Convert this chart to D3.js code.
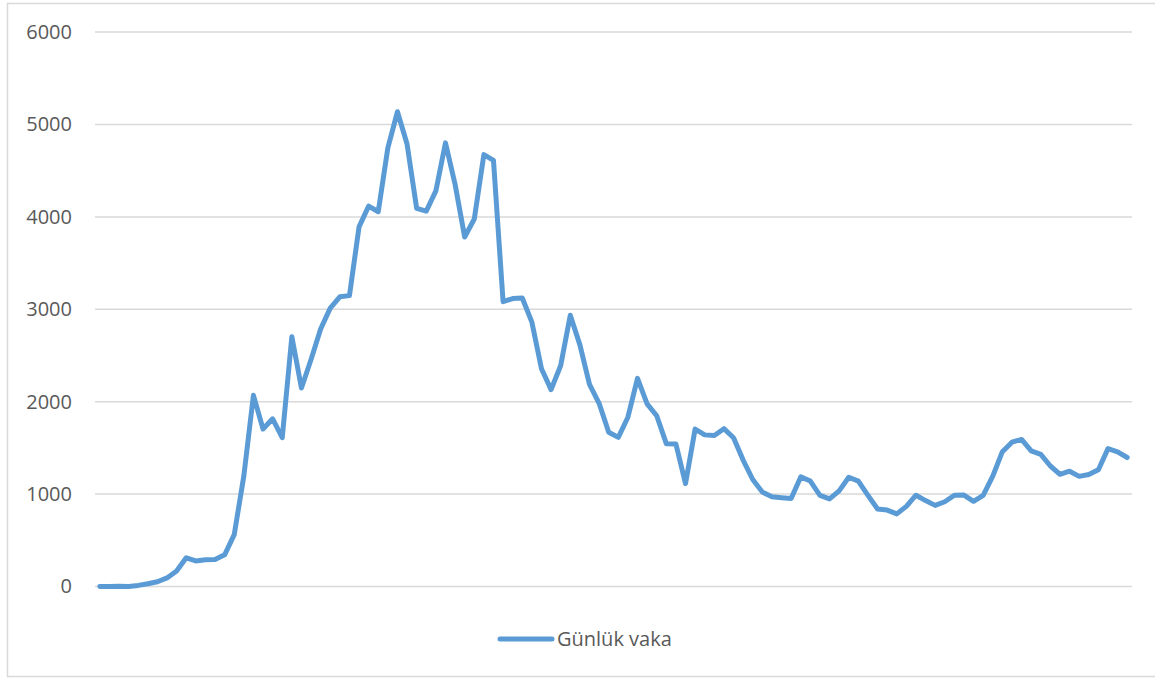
<!DOCTYPE html>
<html>
<head>
<meta charset="utf-8">
<script src="https://cdn.jsdelivr.net/npm/d3@7"></script>
<style>
  html, body { margin: 0; padding: 0; background: #fff; }
  svg { display: block; }
</style>
</head>
<body>
<svg id="chart" width="1155" height="678"></svg>
<script>
// Daily case counts (Günlük vaka), one per day
const dayIndex = d3.range(108);
const dailyCases = [
  1, 0, 4, 1, 12, 29, 51, 93, 168, 311,
  277, 289, 293, 343, 561, 1196, 2069, 1704, 1815, 1610,
  2704, 2148, 2456, 2786, 3013, 3135, 3148, 3892, 4117, 4056,
  4747, 5138, 4789, 4093, 4062, 4281, 4801, 4353, 3783, 3977,
  4674, 4611, 3083, 3116, 3122, 2861, 2357, 2131, 2392, 2936,
  2615, 2188, 1983, 1670, 1614, 1832, 2253, 1977, 1848, 1546,
  1542, 1114, 1704, 1641, 1635, 1708, 1610, 1368, 1158, 1022,
  972, 961, 952, 1186, 1141, 987, 948, 1035, 1182, 1141,
  987, 839, 827, 786, 867, 988, 930, 878, 917, 987,
  989, 922, 987, 1195, 1459, 1562, 1592, 1467, 1429, 1304,
  1214, 1248, 1192, 1212, 1263, 1492, 1458, 1396
];
const yTicks = [0, 1000, 2000, 3000, 4000, 5000, 6000];
const seriesName = "Günlük vaka";

(function () {
const svg = d3.select("#chart");
const font = "'Open Sans', 'Noto Sans', sans-serif";
const textColor = "#595959";
const lineColor = "#5B9BD5";
const gridColor = "#d9d9d9";

// outer border
svg.append("rect")
  .attr("x", 7.5).attr("y", 3.5)
  .attr("width", 1160).attr("height", 673)
  .attr("fill", "none").attr("stroke", gridColor).attr("stroke-width", 1.5);

const plotLeft = 95, plotRight = 1132, plotTop = 32.1, plotBottom = 586.5;

const x = d3.scalePoint().domain(dayIndex).range([plotLeft, plotRight]).padding(0.5);
const y = d3.scaleLinear().domain([0, 6000]).range([plotBottom, plotTop]);

// gridlines
svg.append("g").selectAll("line").data(yTicks).join("line")
  .attr("x1", plotLeft).attr("x2", plotRight)
  .attr("y1", d => y(d)).attr("y2", d => y(d))
  .attr("stroke", gridColor).attr("stroke-width", 1.5);

// y axis labels
const yAxis = d3.axisLeft(y).tickValues(yTicks).tickSize(0).tickPadding(0).tickFormat(d3.format("d"));
const ya = svg.append("g").attr("transform", "translate(72,0)").call(yAxis);
ya.select(".domain").remove();
ya.selectAll("text")
  .attr("font-family", font).attr("font-size", 20).attr("fill", textColor);

// line
const line = d3.line().x((d, i) => x(dayIndex[i])).y(d => y(d));
svg.append("path").datum(dailyCases)
  .attr("d", line)
  .attr("fill", "none").attr("stroke", lineColor)
  .attr("stroke-width", 5).attr("stroke-linejoin", "round").attr("stroke-linecap", "round");

// legend
const lg = svg.append("g");
lg.append("line").attr("x1", 500).attr("x2", 552).attr("y1", 639).attr("y2", 639)
  .attr("stroke", lineColor).attr("stroke-width", 5).attr("stroke-linecap", "round");
lg.append("text").attr("x", 557).attr("y", 639).attr("dy", "0.35em")
  .attr("font-family", font).attr("font-size", 20).attr("fill", textColor)
  .text(seriesName);
})();
</script>
</body>
</html>
